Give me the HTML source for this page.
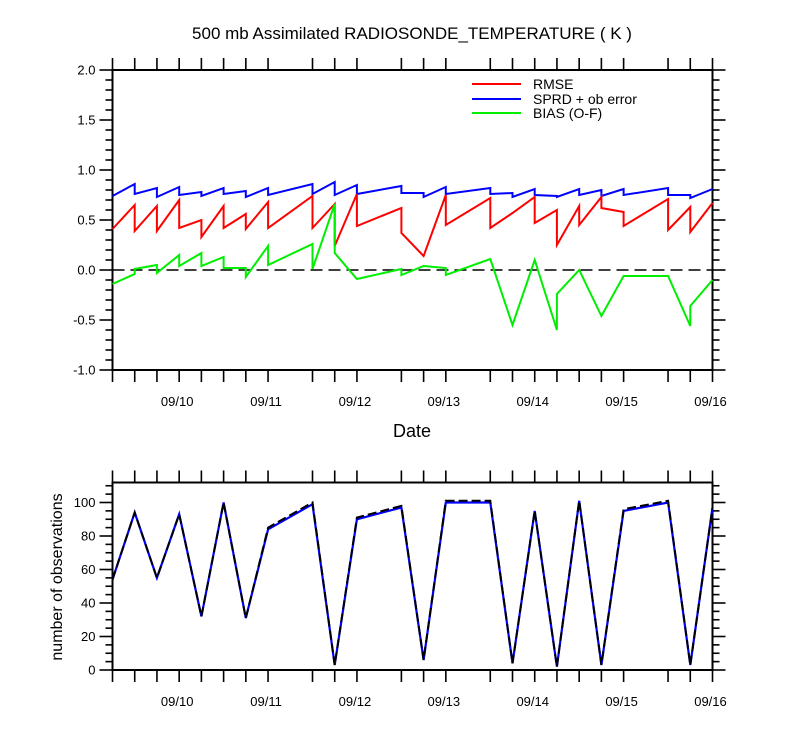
<!DOCTYPE html>
<html><head><meta charset="utf-8"><style>
html,body{margin:0;padding:0;background:#fff;}
svg{display:block;font-family:"Liberation Sans",sans-serif;}
</style></head><body>
<svg id="chart" width="800" height="750" xmlns="http://www.w3.org/2000/svg"></svg>
<script>
// ---- data (time index in 6-hour steps from 09/09 06Z) ----
const rmseT = [0,1,1,2,2,3,3,4,4,5,5,6,6,7,7,9,9,10,10,11,11,13,13,14,15,15,17,17,18,19,19,20,20,21,21,22,22,23,23,25,25,26,26,27];
const rmseV = [0.41,0.65,0.39,0.64,0.39,0.70,0.42,0.50,0.33,0.64,0.42,0.56,0.41,0.68,0.42,0.74,0.42,0.66,0.24,0.76,0.44,0.62,0.37,0.14,0.75,0.45,0.72,0.42,0.57,0.73,0.47,0.60,0.25,0.64,0.45,0.73,0.62,0.58,0.44,0.71,0.40,0.63,0.38,0.67];
const sprdT = [0,1,1,2,2,3,3,4,4,5,5,6,6,7,7,9,9,10,10,11,11,13,13,14,14,15,15,17,17,18,18,19,19,20,20,21,21,22,22,23,23,25,25,26,26,27];
const sprdV = [0.74,0.86,0.76,0.82,0.73,0.83,0.75,0.78,0.74,0.82,0.76,0.79,0.73,0.82,0.75,0.86,0.76,0.88,0.75,0.85,0.76,0.84,0.77,0.77,0.73,0.83,0.76,0.82,0.76,0.77,0.73,0.81,0.75,0.74,0.73,0.81,0.75,0.80,0.74,0.81,0.75,0.82,0.75,0.75,0.72,0.81];
const biasT = [0,1,1,2,2,3,3,4,4,5,5,6,6,7,7,9,9,10,10,11,13,13,14,15,15,17,18,19,20,20,21,22,23,25,26,26,27];
const biasV = [-0.14,-0.04,0.01,0.05,-0.03,0.15,0.04,0.17,0.04,0.13,0.02,0.02,-0.07,0.24,0.05,0.26,0.01,0.66,0.17,-0.09,0.01,-0.05,0.04,0.02,-0.05,0.11,-0.55,0.10,-0.60,-0.24,0.00,-0.46,-0.06,-0.06,-0.56,-0.36,-0.10];
const obsT = [0,1,2,3,4,5,6,7,9,10,11,13,14,15,17,18,19,20,21,22,23,25,26,27];
const obsAll = [54,94,55,93,32,100,31,85,100,3,91,98,6,101,101,4,95,2,101,3,96,101,3,97];
const obsAsm = [54,94,55,93,32,100,31,84,99,3,90,97,6,100,100,4,95,2,101,3,95,100,3,97];
const dateLabels = ["09/10","09/11","09/12","09/13","09/14","09/15","09/16"];
const dateT = [3,7,11,15,19,23,27];
const topTicks = [-1.0,-0.5,0.0,0.5,1.0,1.5,2.0];
const botTicks = [0,20,40,60,80,100];

const NS="http://www.w3.org/2000/svg";
const svg=document.getElementById('chart');
function el(tag,attrs,parent){const e=document.createElementNS(NS,tag);for(const k in attrs)e.setAttribute(k,attrs[k]);(parent||svg).appendChild(e);return e;}
const X0=112.5,X1=712.5,TMAX=27;
const xS=t=>X0+(X1-X0)*t/TMAX;
const yTop=v=>270-100*v;
const yBot=v=>670-1.675*v;

function frame(top,bot,yS,majors,minorStep,minV,maxV,fmt,name){
  const r=el('rect',{x:X0,y:top,width:X1-X0,height:bot-top,fill:'none',stroke:'#000','stroke-width':2});
  
  
  const g=el('g',{stroke:'#000','stroke-width':1.6});
  
  
  for(let v=minV;v<=maxV+1e-9;v+=minorStep){
    const isMaj=majors.some(m=>Math.abs(m-v)<1e-6);
    const L=isMaj?13:7;const y=yS(v);
    el('line',{x1:X0-L,y1:y,x2:X0,y2:y},g);
    el('line',{x1:X1,y1:y,x2:X1+L,y2:y},g);
  }
  obsT.forEach(t=>{const x=xS(t);
    el('line',{x1:x,y1:bot,x2:x,y2:bot+12},g);
    el('line',{x1:x,y1:top-12,x2:x,y2:top},g);});
  majors.forEach(m=>{const t=el('text',{x:X0-17,y:yS(m)+4.5,'text-anchor':'end','font-size':13,fill:'#000'});t.textContent=fmt(m);
    
    });
  dateLabels.forEach((d,i)=>{const t=el('text',{x:xS(dateT[i])-2,y:bot+36,'text-anchor':'middle','font-size':13,fill:'#000'});t.textContent=d;
    
    });
}
function line(ts,vs,yS,color,name,extra){
  const d=ts.map((t,i)=>(i?'L':'M')+xS(t).toFixed(1)+','+yS(vs[i]).toFixed(1)).join('');
  const p=el('path',Object.assign({d:d,fill:'none',stroke:color,'stroke-width':2,'stroke-linejoin':'miter'},extra||{}));
  
  
}

// title
const ti=el('text',{x:412,y:39,'text-anchor':'middle','font-size':17,fill:'#000'});ti.textContent='500 mb Assimilated RADIOSONDE_TEMPERATURE ( K )';



// top panel
frame(70,370,yTop,topTicks,0.1,-1.0,2.0,v=>v.toFixed(1),'top-panel');
const zl=el('line',{x1:X0,y1:yTop(0),x2:X1,y2:yTop(0),stroke:'#000','stroke-width':1.6,'stroke-dasharray':'12,6'});


line(sprdT,sprdV,yTop,'#0000ff','sprd-line');
line(rmseT,rmseV,yTop,'#ff0000','rmse-line');
line(biasT,biasV,yTop,'#00ee00','bias-line');
const xt=el('text',{x:412,y:437,'text-anchor':'middle','font-size':18,fill:'#000'});xt.textContent='Date';



// legend
const leg=[['RMSE','#ff0000',76],['SPRD + ob error','#0000ff',91],['BIAS (O-F)','#00ee00',105]];
leg.forEach(l=>{const g=el('g',{});
  
  
  el('line',{x1:472,y1:l[2]+8,x2:521,y2:l[2]+8,stroke:l[1],'stroke-width':2},g);
  const t=el('text',{x:533,y:l[2]+13,'font-size':14,fill:'#000'},g);t.textContent=l[0];});

// bottom panel
frame(482.5,670,yBot,botTicks,5,0,110,v=>String(v),'bottom-panel');
line(obsT,obsAsm,yBot,'#0000ff','assimilated-obs-line',{'stroke-width':2.2});
line(obsT,obsAll,yBot,'#000','total-obs-line',{'stroke-dasharray':'9,4','stroke-width':2});
const yt=el('text',{x:0,y:0,'text-anchor':'middle','font-size':16,fill:'#000',transform:'translate(62,577) rotate(-90)'});yt.textContent='number of observations';


</script>
</body></html>
